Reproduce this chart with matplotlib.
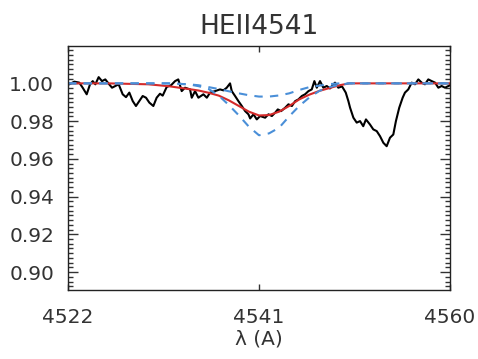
import matplotlib
matplotlib.use("Agg")
import matplotlib.pyplot as plt
from matplotlib.ticker import MultipleLocator, FormatStrFormatter

wave_obs = [4522.00, 4522.13, 4522.63, 4523.12, 4523.46, 4523.86, 4524.19, 4524.46, 4524.72, 4525.05,
            4525.38, 4525.71, 4526.05, 4526.38, 4526.71, 4527.04, 4527.44, 4527.77, 4528.10, 4528.44,
            4528.76, 4529.09, 4529.43, 4529.76, 4530.09, 4530.49, 4530.82, 4531.15, 4531.42, 4531.82,
            4532.25, 4532.65, 4532.97, 4533.31, 4533.64, 4534.14, 4534.31, 4534.64, 4534.97, 4535.47,
            4535.81, 4536.13, 4536.63, 4537.12, 4537.46, 4537.79, 4538.12, 4538.29, 4538.62, 4538.95,
            4539.29, 4539.62, 4539.95, 4540.12, 4540.45, 4540.78, 4541.11, 4541.61, 4541.94, 4542.28,
            4542.61, 4542.87, 4543.20, 4543.60, 4543.93, 4544.27, 4544.60, 4544.92, 4545.26, 4545.58,
            4545.92, 4546.25, 4546.51, 4546.75, 4547.07, 4547.40, 4547.74, 4548.06, 4548.56, 4548.89,
            4549.26, 4549.63, 4549.89, 4550.06, 4550.39, 4550.72, 4551.05, 4551.37, 4551.64, 4552.04,
            4552.37, 4552.71, 4553.04, 4553.37, 4553.70, 4554.03, 4554.36, 4554.62, 4554.95, 4555.29,
            4555.52, 4555.85, 4556.19, 4556.52, 4556.85, 4557.18, 4557.51, 4557.84, 4558.18, 4558.51,
            4558.84, 4559.17, 4559.50, 4560.00]
flux_obs = [0.9995, 0.9995, 1.0009, 1.0004, 0.9977, 0.9942, 0.9995, 1.0012, 0.9995, 1.0033,
            1.0012, 1.0021, 0.9998, 0.9977, 0.9986, 0.9995, 0.9942, 0.9927, 0.9951, 0.9906,
            0.9880, 0.9906, 0.9933, 0.9924, 0.9898, 0.9880, 0.9924, 0.9945, 0.9935, 0.9981,
            0.9990, 1.0012, 1.0021, 0.9959, 0.9977, 0.9968, 0.9924, 0.9959, 0.9924, 0.9942,
            0.9924, 0.9951, 0.9959, 0.9968, 0.9963, 0.9977, 1.0000, 0.9959, 0.9933, 0.9906,
            0.9880, 0.9853, 0.9836, 0.9814, 0.9836, 0.9809, 0.9827, 0.9818, 0.9836, 0.9827,
            0.9845, 0.9862, 0.9853, 0.9871, 0.9889, 0.9880, 0.9906, 0.9915, 0.9933, 0.9942,
            0.9959, 0.9968, 1.0012, 0.9977, 1.0012, 0.9977, 0.9986, 0.9973, 1.0004, 0.9977,
            0.9984, 0.9951, 0.9906, 0.9871, 0.9818, 0.9792, 0.9800, 0.9773, 0.9809, 0.9782,
            0.9756, 0.9747, 0.9720, 0.9685, 0.9667, 0.9712, 0.9729, 0.9800, 0.9871, 0.9924,
            0.9951, 0.9968, 1.0004, 0.9995, 1.0021, 1.0004, 0.9995, 1.0021, 1.0012, 1.0004,
            0.9977, 0.9986, 0.9977, 0.9990]

# model profiles
wave_fit = [4522, 4526, 4530, 4532, 4534, 4535, 4536, 4537, 4538, 4539, 4540, 4541,
            4542, 4543, 4544, 4545, 4546, 4547, 4548, 4549, 4550, 4554, 4560]
flux_fit = [1.0, 1.0, 0.9995, 0.9985, 0.997, 0.9962, 0.995, 0.9935, 0.991, 0.988, 0.985, 0.983,
            0.9832, 0.985, 0.988, 0.9915, 0.994, 0.996, 0.9975, 0.999, 1.0, 1.0, 1.0]
flux_shallow = [1.0, 1.0, 1.0, 1.0, 0.9995, 0.999, 0.998, 0.997, 0.9958, 0.9947, 0.9937, 0.993,
                0.993, 0.9936, 0.9947, 0.9965, 0.998, 0.9988, 0.9996, 1.0, 1.0, 1.0, 1.0]
flux_deep = [1.0, 1.0, 1.0, 1.0, 0.9995, 0.9985, 0.997, 0.9935, 0.9885, 0.983, 0.977, 0.9725,
             0.9735, 0.9765, 0.9825, 0.988, 0.9925, 0.996, 0.998, 0.9993, 1.0, 1.0, 1.0]

fig = plt.figure(figsize=(4.78, 3.59), dpi=100)
ax = fig.add_axes([68/478, 1 - 290/359, 382/478, 244/359])

ax.plot(wave_obs, flux_obs, color='black', lw=1.5)
ax.plot(wave_fit, flux_fit, color='#d42a2a', lw=1.5)
ax.plot(wave_fit, flux_shallow, color='#4a8fd8', lw=1.5, dashes=(4, 3.5))
ax.plot(wave_fit, flux_deep, color='#4a8fd8', lw=1.5, dashes=(4, 3.5))

ax.set_xlim(4522, 4560)
ax.set_ylim(0.8905, 1.0198)
ax.set_xticks([4522, 4541, 4560])
ax.yaxis.set_major_locator(MultipleLocator(0.02))
ax.yaxis.set_minor_locator(MultipleLocator(0.0025))
ax.yaxis.set_major_formatter(FormatStrFormatter('%.2f'))

ax.tick_params(which='both', direction='in', top=True, right=True,
               colors='#333333', labelsize=14.5, width=1)
ax.tick_params(axis='y', which='major', length=7, pad=10)
ax.tick_params(axis='y', which='minor', length=3.5)
ax.tick_params(axis='x', which='major', length=4, pad=13)
for s in ax.spines.values():
    s.set_color('#222222')
    s.set_linewidth(1)

ax.set_title('HEII4541', fontsize=19, color='#333333', pad=9)
ax.set_xlabel('λ (A)', fontsize=14.5, color='#333333', labelpad=2)

fig.savefig('out.png', dpi=100)
